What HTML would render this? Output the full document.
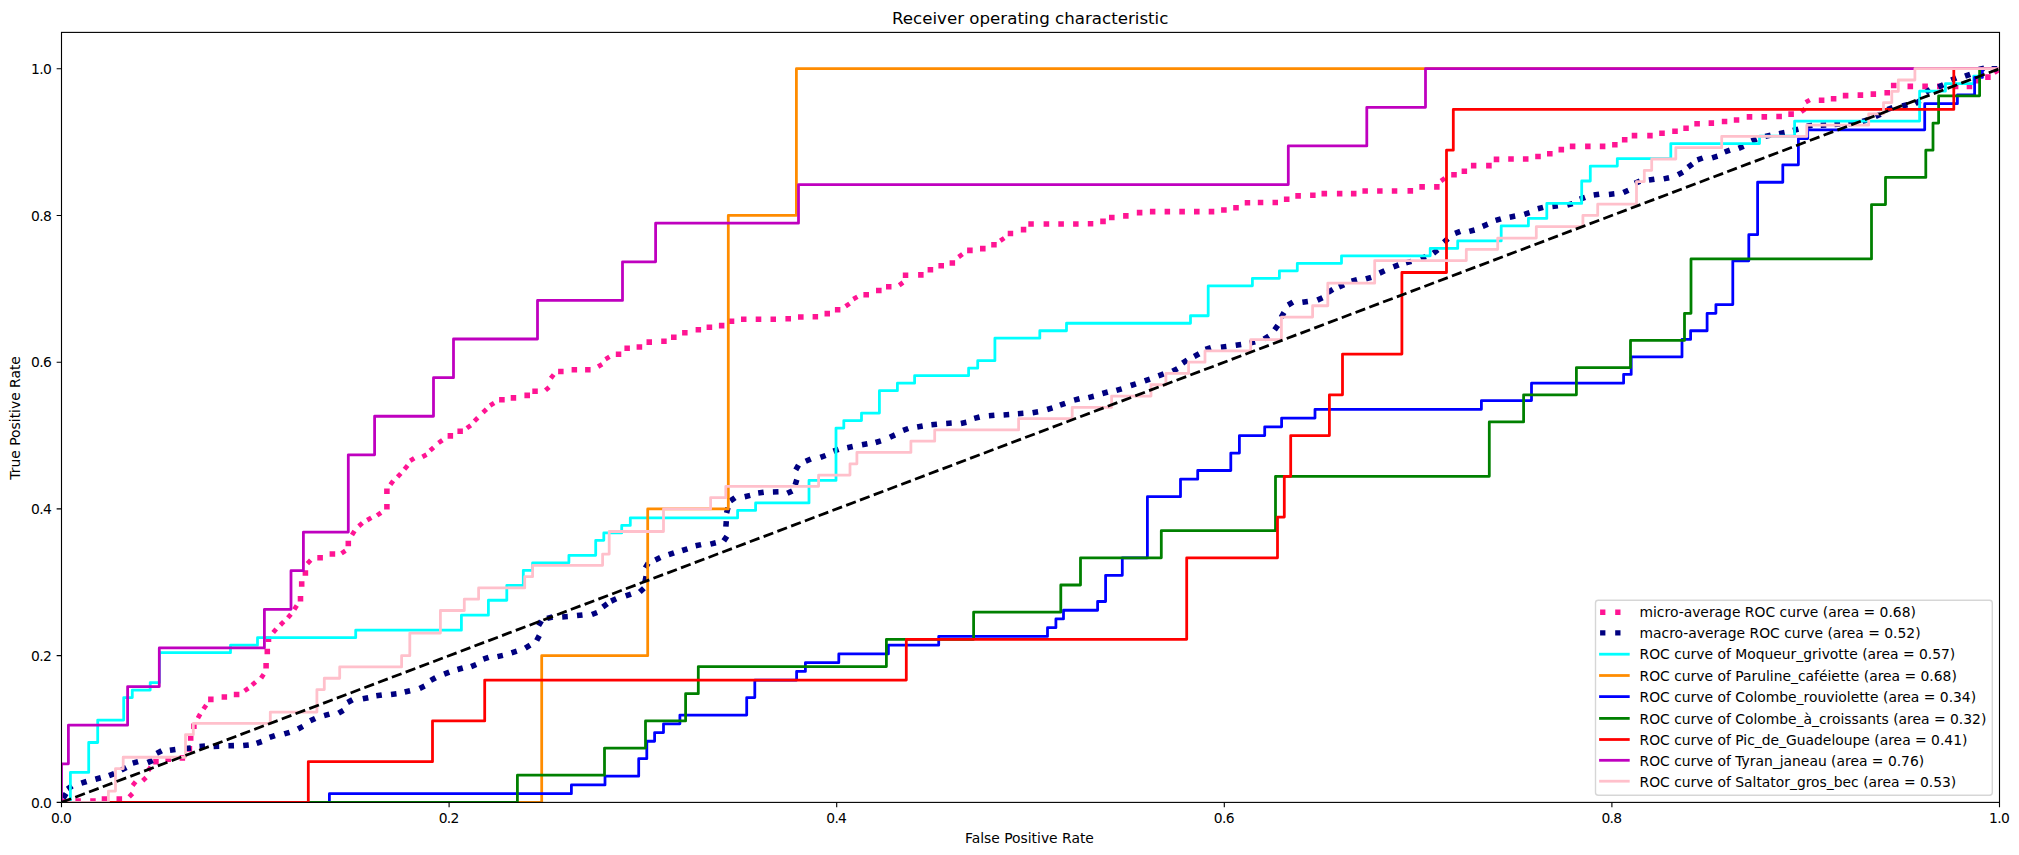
<!DOCTYPE html>
<html><head><meta charset="utf-8"><title>Receiver operating characteristic</title>
<style>html,body{margin:0;padding:0;background:#fff}body{width:2019px;height:855px;overflow:hidden}</style>
</head><body>
<svg width="2019" height="855" viewBox="0 0 2019 855" style="display:block">
<rect width="2019" height="855" fill="#fff"/>
<defs><clipPath id="ax"><rect x="61.5" y="32.4" width="1938.0" height="770.0"/></clipPath></defs>
<g clip-path="url(#ax)" fill="none">
<path d="M59.9 801.6L65.5 801.6M75.4 801.0L80.9 801.0M90.2 801.0L95.7 801.0M101.7 799.0L107.3 799.0M116.5 799.0L122.1 799.0M153.2 761.7L158.7 761.7M165.4 759.2L171.0 759.2M179.6 757.9L185.1 757.9M189.4 751.7L189.4 746.1M190.7 740.7L190.7 735.2M193.9 729.1L193.9 723.6M208.1 699.4L213.6 699.4M221.6 697.0L227.1 697.0M233.8 694.5L239.4 694.5M266.1 668.6L266.1 663.0M267.3 654.3L267.3 648.8M268.5 642.1L268.5 636.5M300.5 601.5L300.5 595.9M301.7 586.8L301.7 581.2M305.4 575.7L305.4 570.2M317.3 557.7L322.9 557.7M329.6 554.0L335.2 554.0M348.3 546.2L348.3 540.7M386.9 509.4L386.9 503.9M386.9 493.9L386.9 488.4M447.6 435.9L453.1 435.9M457.4 431.3L462.9 431.3M499.1 399.8L504.7 399.8M510.7 397.9L516.2 397.9M524.4 395.4L530.0 395.4M532.3 391.2L537.8 391.2M558.1 371.5L563.6 371.5M571.6 369.8L577.1 369.8M585.1 369.8L590.6 369.8M615.8 354.3L621.3 354.3M624.4 348.2L629.9 348.2M636.6 347.0L642.2 347.0M646.5 342.1L652.0 342.1M661.2 341.3L666.7 341.3M671.0 337.2L676.6 337.2M682.1 332.7L687.6 332.7M695.6 329.8L701.1 329.8M706.6 327.3L712.2 327.3M718.9 325.6L724.4 325.6M728.7 321.2L734.3 321.2M741.0 319.2L746.5 319.2M755.7 319.2L761.3 319.2M770.5 319.2L776.0 319.2M785.4 318.8L791.0 318.8M798.0 317.0L803.6 317.0M812.6 316.8L818.1 316.8M824.5 313.6L830.0 313.6M834.9 309.8L840.4 309.8M863.4 294.7L869.0 294.7M876.0 290.5L881.6 290.5M886.0 286.8L891.5 286.8M902.8 275.2L908.3 275.2M918.1 274.9L923.6 274.9M927.6 269.7L933.2 269.7M938.4 265.7L944.0 265.7M949.6 263.0L955.1 263.0M967.1 250.4L972.7 250.4M980.0 248.6L985.6 248.6M991.2 244.8L996.7 244.8M1007.7 233.5L1013.2 233.5M1020.8 229.6L1026.3 229.6M1028.3 224.0L1033.8 224.0M1043.6 224.0L1049.2 224.0M1058.3 224.0L1063.9 224.0M1073.1 224.0L1078.6 224.0M1087.8 223.7L1093.3 223.7M1100.2 221.4L1105.8 221.4M1109.0 217.5L1114.6 217.5M1123.1 215.9L1128.6 215.9M1136.8 212.6L1142.4 212.6M1149.9 211.6L1155.4 211.6M1164.6 211.6L1170.1 211.6M1179.3 211.6L1184.9 211.6M1194.0 211.6L1199.6 211.6M1208.7 211.6L1214.3 211.6M1221.1 210.0L1226.7 210.0M1233.2 207.7L1238.8 207.7M1244.7 202.8L1250.2 202.8M1257.8 202.5L1263.3 202.5M1272.5 202.5L1278.0 202.5M1283.9 199.2L1289.5 199.2M1295.3 195.9L1300.9 195.9M1310.1 195.3L1315.6 195.3M1321.5 193.6L1327.1 193.6M1336.9 193.6L1342.4 193.6M1350.9 193.6L1356.5 193.6M1362.4 191.0L1367.9 191.0M1377.1 191.0L1382.6 191.0M1391.8 191.0L1397.3 191.0M1407.5 190.9L1413.1 190.9M1419.3 186.9L1424.9 186.9M1434.1 186.9L1439.6 186.9M1451.2 174.7L1456.8 174.7M1461.6 171.2L1467.1 171.2M1470.9 165.6L1476.4 165.6M1486.1 165.6L1491.7 165.6M1493.7 159.4L1499.3 159.4M1508.2 159.0L1513.8 159.0M1522.9 159.0L1528.5 159.0M1535.2 156.5L1540.8 156.5M1547.0 153.8L1552.6 153.8M1558.5 149.6L1564.1 149.6M1569.8 146.4L1575.4 146.4M1585.1 146.4L1590.6 146.4M1599.8 146.4L1605.4 146.4M1612.1 144.7L1617.6 144.7M1621.9 139.8L1627.5 139.8M1631.7 135.6L1637.3 135.6M1647.2 135.6L1652.7 135.6M1659.2 133.2L1664.8 133.2M1672.2 131.2L1677.8 131.2M1683.3 128.3L1688.8 128.3M1694.3 123.8L1699.9 123.8M1708.6 123.1L1714.1 123.1M1721.8 121.5L1727.3 121.5M1733.8 120.0L1739.3 120.0M1746.7 116.9L1752.3 116.9M1761.5 116.9L1767.1 116.9M1776.3 116.5L1781.9 116.5M1788.3 114.1L1793.9 114.1M1818.8 100.2L1824.4 100.2M1830.8 98.8L1836.4 98.8M1842.8 95.6L1848.4 95.6M1857.6 95.1L1863.2 95.1M1870.6 94.1L1876.1 94.1M1884.4 92.8L1890.0 92.8M1890.9 85.5L1896.5 85.5M1907.5 86.4L1913.1 86.4M1922.3 86.4L1927.9 86.4M1937.1 86.4L1942.7 86.4M1952.8 86.4L1958.4 86.4M1966.7 86.4L1972.2 86.4M1975.0 80.8L1980.6 80.8M1985.2 77.1L1990.7 77.1" stroke="#ff1493" stroke-width="5.56"/><path d="M129.2 796.9L132.5 793.5M132.6 785.4L135.6 781.8M142.7 780.7L146.1 777.5M148.2 770.8L150.8 766.8M197.9 718.1L200.2 714.0M203.5 709.0L206.2 705.1M244.5 690.9L248.4 688.3M252.0 685.0L255.6 682.0M261.1 678.1L263.7 674.2M273.2 632.5L276.2 628.9M280.4 625.0L283.7 621.7M287.9 617.8L290.9 614.2M294.3 609.4L296.8 605.4M307.4 563.6L310.7 560.2M341.5 553.4L345.4 550.8M352.0 534.9L354.5 530.9M358.8 526.1L362.4 523.0M367.2 520.1L371.3 517.7M377.1 515.4L381.0 512.7M390.4 484.7L393.2 480.9M397.6 476.9L400.8 473.5M404.5 469.2L407.6 465.5M410.2 460.7L414.2 458.2M422.4 456.9L426.5 454.7M430.1 450.5L433.6 447.4M438.5 442.9L442.4 440.2M466.9 428.2L470.7 425.4M474.4 421.1L477.8 417.8M483.0 412.5L486.4 409.2M490.1 405.5L494.1 403.0M545.5 390.3L549.1 387.2M550.8 378.3L553.7 374.6M598.1 366.6L602.1 364.2M605.5 359.2L609.5 356.8M845.6 306.3L849.6 303.6M853.3 299.1L857.4 296.8M899.2 285.2L903.0 282.5M958.6 257.0L962.5 254.2M1000.3 240.7L1004.2 238.1M1441.0 181.0L1444.9 178.2M1801.2 111.9L1805.0 109.0M1805.7 102.3L1809.8 100.0M1994.3 72.9L1998.2 70.3" stroke="#ff1493" stroke-width="4.73"/>
<path d="M63.2 798.2L66.1 793.5M67.5 789.1L72.1 785.9M81.3 783.2L86.6 781.5M95.4 779.2L100.8 777.7M109.0 775.6L114.2 773.6M121.3 770.1L126.3 767.5M132.7 763.1L138.1 761.6M147.6 762.6L152.7 760.4M156.7 753.4L161.7 750.8M169.9 750.3L175.4 749.5M185.4 748.6L190.9 747.9M199.5 746.5L205.0 746.1M213.6 746.4L219.2 746.2M228.4 745.8L234.0 745.6M243.2 745.6L248.8 745.0M256.6 743.3L261.8 741.5M269.6 737.4L274.9 735.6M284.3 733.9L289.6 732.3M298.0 729.0L302.9 726.4M310.2 720.8L315.2 718.4M324.1 715.7L329.4 714.2M338.6 713.1L343.4 710.3M347.6 702.5L352.5 699.8M362.8 698.8L368.3 697.7M376.3 695.7L381.8 694.9M391.0 694.4L396.5 693.7M404.7 692.0L410.1 690.7M419.6 688.4L424.6 686.0M430.7 680.4L435.6 677.7M444.1 674.2L449.3 672.2M457.5 669.5L462.8 668.0M471.1 666.6L476.2 664.5M483.3 659.1L488.6 657.3M497.5 656.6L502.9 655.4M511.5 652.9L516.8 651.2M525.3 648.1L530.1 645.2M536.7 640.5L539.3 635.6M538.6 625.7L541.4 620.9M547.1 618.4L552.5 617.0M562.2 616.9L567.8 616.5M577.0 615.5L582.5 614.9M591.9 614.5L597.1 612.5M602.8 607.0L607.3 603.8M611.1 601.1L616.2 598.8M625.7 595.9L631.0 594.1M639.8 592.0L643.9 588.2M645.0 581.8L646.1 576.3M645.3 567.9L648.2 563.2M655.3 559.9L660.3 557.5M668.7 554.7L674.0 552.9M682.2 550.5L687.5 548.8M695.6 545.8L701.1 544.6M710.4 544.1L715.8 542.8M723.8 540.9L726.9 536.2M725.9 526.6L726.3 521.1M726.6 513.0L728.0 507.6M730.4 500.9L735.0 497.7M744.7 496.7L750.2 495.4M758.2 493.0L763.7 492.2M772.9 492.0L778.5 491.8M787.3 493.3L792.3 490.9M795.2 484.9L796.8 479.6M795.8 469.9L798.5 465.1M805.7 461.2L810.8 459.0M820.4 457.4L825.6 455.5M833.4 451.2L838.6 449.4M847.3 447.7L852.7 446.5M862.0 444.7L867.4 443.7M875.6 442.5L880.9 440.9M889.9 437.2L895.0 434.9M903.1 430.4L908.3 428.5M917.2 427.0L922.7 426.0M931.4 424.8L937.0 424.2M946.2 423.5L951.7 423.1M960.9 423.4L966.4 422.3M974.2 418.4L979.6 417.0M988.9 415.7L994.4 415.2M1003.6 414.9L1009.2 414.5M1017.9 413.7L1023.4 413.3M1032.6 412.7L1038.1 411.8M1047.2 409.5L1052.5 407.9M1060.0 405.2L1065.2 403.4M1074.1 400.1L1079.5 398.7M1088.4 397.6L1093.8 396.3M1102.4 393.5L1107.8 392.0M1116.4 390.3L1121.7 388.8M1130.7 385.5L1135.9 383.8M1144.7 380.9L1149.9 379.1M1158.4 375.8L1163.7 373.9M1172.6 371.3L1177.5 368.6M1182.6 363.1L1187.2 360.0M1194.2 356.5L1199.1 353.8M1205.5 349.4L1210.9 347.7M1220.9 347.2L1226.4 346.5M1235.7 345.3L1241.2 344.5M1249.7 343.1L1255.1 341.7M1264.0 339.0L1268.8 336.0M1274.6 329.9L1277.8 325.4M1281.2 317.3L1284.0 312.5M1288.1 305.0L1292.9 302.2M1302.4 302.3L1307.9 301.5M1317.4 300.1L1322.5 297.8M1328.1 292.3L1332.9 289.4M1339.0 287.0L1344.1 284.8M1351.6 281.3L1357.0 279.8M1365.9 278.9L1371.2 277.3M1379.5 273.1L1384.6 270.8M1393.4 266.8L1398.7 264.8M1405.9 262.9L1411.3 261.3M1420.7 258.7L1425.9 256.7M1433.4 253.2L1437.8 249.8M1443.8 242.3L1448.0 238.7M1455.1 233.4L1460.3 231.4M1469.3 231.4L1474.6 230.0M1482.6 226.3L1487.8 224.2M1495.6 220.4L1500.9 218.8M1509.7 217.2L1515.2 216.1M1524.3 214.3L1529.6 212.7M1537.8 208.8L1543.1 207.4M1552.4 206.4L1557.9 205.8M1567.2 205.2L1572.6 203.6M1579.8 199.2L1585.1 197.3M1593.7 195.0L1599.2 194.2M1608.9 194.4L1614.4 193.8M1623.4 192.5L1628.4 190.2M1634.9 183.4L1640.0 181.1M1648.9 180.0L1654.4 179.2M1663.7 178.9L1669.1 177.8M1678.0 174.8L1682.9 172.1M1688.0 167.2L1692.5 163.9M1697.4 159.9L1702.7 158.0M1712.1 157.8L1717.5 156.2M1724.7 152.0L1729.9 150.1M1738.6 148.4L1743.7 146.3M1751.6 141.1L1756.7 138.9M1765.3 136.4L1770.7 135.1M1779.1 133.7L1784.6 132.6M1793.0 130.5L1798.4 129.1M1806.8 126.2L1812.3 125.3M1820.7 125.3L1826.2 125.0M1834.5 124.5L1840.1 124.1M1848.4 123.7L1853.9 123.0M1862.4 121.4L1867.7 119.8M1875.5 116.6L1880.5 114.2M1887.4 109.5L1892.6 107.6M1902.1 106.0L1907.5 104.8M1915.3 103.6L1920.1 100.6M1925.6 92.6L1930.1 89.4M1938.3 87.0L1943.3 84.7M1951.2 80.0L1956.3 78.0M1965.0 76.2L1970.2 74.3M1978.8 69.5L1984.2 68.2M1991.6 68.8L1997.2 68.8" stroke="#000080" stroke-width="5.56"/>
<path d="M61.5 802.40H70.4V772.45H88.7V742.51H97.7V720.05H123.7V697.59H132.3V690.10H150.2V682.61H159.5V652.67H230.5V645.18H257.5V637.69H355.7V630.21H461.4V615.23H488.4V600.26H506.8V585.28H523.3V570.31H532.6V562.82H568.9V555.34H595.7V540.36H603.8V532.88H621.7V525.39H630.3V517.90H737.6V510.42H755.6V502.93H809.0V480.47H836.0V428.06H843.8V420.58H861.5V413.09H879.4V390.63H897.4V383.14H914.6V375.66H968.6V368.17H977.7V360.68H994.9V338.22H1039.8V330.74H1066.5V323.25H1190.5V315.76H1208.2V285.82H1252.4V278.33H1279.4V270.84H1297.3V263.36H1341.5V255.87H1430.2V248.38H1457.7V240.89H1501.2V225.92H1528.4V218.43H1546.8V203.46H1581.7V181.00H1590.3V166.03H1617.3V158.54H1670.8V143.57H1759.5V136.08H1794.6V121.11H1919.6V91.16H1945.4V83.67H1973.7V76.19H1981.5V68.70H1999.5" stroke="#00ffff" stroke-width="2.78" stroke-linejoin="round" stroke-linecap="square"/>
<path d="M61.5 802.40H541.7V655.66H647.7V508.92H728.3V215.44H796.4V68.70H1999.5" stroke="#ff8c00" stroke-width="2.78" stroke-linejoin="round" stroke-linecap="square"/>
<path d="M61.5 802.40H329.4V793.67H571.4V784.93H605.0V776.20H638.7V758.73H646.8V741.26H654.6V732.52H663.5V723.79H679.9V715.05H746.7V697.59H754.8V680.12H796.6V671.38H805.4V662.65H838.8V653.91H888.4V645.18H938.7V636.44H1047.5V627.71H1055.9V618.98H1063.5V610.24H1097.6V601.51H1105.6V575.30H1122.3V557.83H1147.4V496.69H1180.5V479.22H1197.7V470.49H1230.8V453.02H1239.4V435.55H1264.7V426.82H1281.6V418.08H1315.0V409.35H1481.4V400.61H1531.5V383.14H1623.6V374.41H1631.2V356.94H1682.0V339.47H1690.6V330.74H1707.1V313.27H1715.9V304.53H1732.8V260.86H1748.8V234.66H1757.6V182.25H1782.8V164.78H1798.4V138.58H1807.7V129.84H1924.7V103.64H1957.4V94.90H1974.6V77.43H1982.4V68.70H1999.5" stroke="#0000ff" stroke-width="2.78" stroke-linejoin="round" stroke-linecap="square"/>
<path d="M61.5 802.40H517.4V775.23H604.5V748.05H645.5V720.88H685.6V693.70H698.3V666.53H886.4V639.36H973.6V612.18H1060.8V585.01H1080.5V557.83H1161.3V530.66H1275.5V476.31H1489.3V421.96H1523.6V394.79H1576.4V367.61H1630.5V340.44H1684.5V313.27H1691.0V258.92H1871.5V204.57H1885.5V177.40H1925.8V150.22H1933.0V123.05H1938.6V95.87H1979.6V68.70H1999.5" stroke="#008000" stroke-width="2.78" stroke-linejoin="round" stroke-linecap="square"/>
<path d="M61.5 802.40H308.3V761.64H432.5V720.88H484.7V680.12H906.3V639.36H1186.7V557.83H1277.5V517.07H1284.3V476.31H1290.7V435.55H1329.4V394.79H1342.5V354.03H1401.9V272.51H1446.5V150.22H1453.3V109.46H1953.8V68.70H1999.5" stroke="#ff0000" stroke-width="2.78" stroke-linejoin="round" stroke-linecap="square"/>
<path d="M61.5 802.40H61.5V763.78H68.4V725.17H127.6V686.55H159.3V647.94H264.4V609.32H291.0V570.71H303.4V532.09H348.3V454.86H374.6V416.24H433.5V377.63H453.5V339.01H537.5V300.39H622.5V261.78H655.6V223.16H798.5V184.55H1288.3V145.93H1366.8V107.32H1425.5V68.70H1999.5" stroke="#bf00bf" stroke-width="2.78" stroke-linejoin="round" stroke-linecap="square"/>
<path d="M61.5 802.40H108.4V791.11H115.5V768.54H123.2V757.25H185.5V734.67H193.3V723.39H270.3V712.10H316.9V689.52H324.3V678.24H339.7V666.95H401.6V655.66H409.8V633.08H440.4V610.51H464.3V599.22H478.6V587.93H524.7V576.65H532.6V565.36H602.6V554.07H609.2V531.50H663.5V508.92H710.6V497.63H725.8V486.34H818.6V475.06H850.0V463.77H856.9V452.48H910.9V441.19H934.7V429.91H1018.6V418.62H1072.2V407.33H1111.6V396.04H1151.0V384.76H1165.9V373.47H1188.6V362.18H1205.0V350.89H1250.7V339.60H1281.4V317.03H1312.6V305.74H1327.8V283.17H1374.7V260.59H1466.3V249.30H1497.7V238.02H1536.3V226.73H1582.9V215.44H1597.7V204.15H1636.5V181.58H1644.3V170.29H1651.7V159.00H1675.8V147.71H1721.7V136.43H1806.8V125.14H1868.7V113.85H1883.5V102.56H1891.8V91.28H1898.3V79.99H1914.9V68.70H1999.5" stroke="#ffc0cb" stroke-width="2.78" stroke-linejoin="round" stroke-linecap="square"/>
<path d="M61.5 802.40L1999.5 68.70" stroke="#000" stroke-width="2.78" stroke-dasharray="10.28 4.44"/>
</g>
<rect x="61.5" y="32.4" width="1938.0" height="770.0" fill="none" stroke="#000" stroke-width="1.11"/>
<path d="M61.50 802.4v4.86M61.5 802.40h-4.86M449.10 802.4v4.86M61.5 655.66h-4.86M836.70 802.4v4.86M61.5 508.92h-4.86M1224.30 802.4v4.86M61.5 362.18h-4.86M1611.90 802.4v4.86M61.5 215.44h-4.86M1999.50 802.4v4.86M61.5 68.70h-4.86" stroke="#000" stroke-width="1.11" fill="none"/>
<g font-family="'DejaVu Sans','Liberation Sans',sans-serif" font-size="13.89px" fill="#000">
<text x="61.05" y="822.9" text-anchor="middle" letter-spacing="-0.7">0.0</text>
<text x="41.05" y="807.60" text-anchor="middle" letter-spacing="-0.7">0.0</text>
<text x="448.65" y="822.9" text-anchor="middle" letter-spacing="-0.7">0.2</text>
<text x="41.05" y="660.86" text-anchor="middle" letter-spacing="-0.7">0.2</text>
<text x="836.25" y="822.9" text-anchor="middle" letter-spacing="-0.7">0.4</text>
<text x="41.05" y="514.12" text-anchor="middle" letter-spacing="-0.7">0.4</text>
<text x="1223.85" y="822.9" text-anchor="middle" letter-spacing="-0.7">0.6</text>
<text x="41.05" y="367.38" text-anchor="middle" letter-spacing="-0.7">0.6</text>
<text x="1611.45" y="822.9" text-anchor="middle" letter-spacing="-0.7">0.8</text>
<text x="41.05" y="220.64" text-anchor="middle" letter-spacing="-0.7">0.8</text>
<text x="1999.05" y="822.9" text-anchor="middle" letter-spacing="-0.7">1.0</text>
<text x="41.05" y="73.90" text-anchor="middle" letter-spacing="-0.7">1.0</text>
<text x="1029.4" y="842.9" text-anchor="middle">False Positive Rate</text>
<text transform="translate(19.8 417.9) rotate(-90)" text-anchor="middle">True Positive Rate</text>
<text x="1030.2" y="24.1" text-anchor="middle" font-size="16.67px">Receiver operating characteristic</text>
</g>
<rect x="1595.5" y="600.3" width="396.79999999999995" height="194.9000000000001" rx="2.8" fill="#fff" fill-opacity="0.8" stroke="#ccc" stroke-opacity="0.8" stroke-width="1.39"/>
<g font-family="'DejaVu Sans','Liberation Sans',sans-serif" font-size="13.89px" fill="#000">
<path d="M1600.1 612.25h27.8" stroke="#ff1493" stroke-width="5.4" stroke-dasharray="5.3 9.8" fill="none"/>
<text x="1639.5" y="617.15">micro-average ROC curve (area = 0.68)</text>
<path d="M1600.1 632.90h27.8" stroke="#000080" stroke-width="5.4" stroke-dasharray="5.3 9.8" fill="none"/>
<text x="1639.5" y="637.90">macro-average ROC curve (area = 0.52)</text>
<path d="M1600.5 654.20h27.8" stroke="#00ffff" stroke-width="2.78" stroke-linecap="square" fill="none"/>
<text x="1639.5" y="659.10">ROC curve of Moqueur_grivotte (area = 0.57)</text>
<path d="M1600.5 675.50h27.8" stroke="#ff8c00" stroke-width="2.78" stroke-linecap="square" fill="none"/>
<text x="1639.5" y="681.40">ROC curve of Paruline_caféiette (area = 0.68)</text>
<path d="M1600.5 696.60h27.8" stroke="#0000ff" stroke-width="2.78" stroke-linecap="square" fill="none"/>
<text x="1639.5" y="702.00">ROC curve of Colombe_rouviolette (area = 0.34)</text>
<path d="M1600.5 718.40h27.8" stroke="#008000" stroke-width="2.78" stroke-linecap="square" fill="none"/>
<text x="1639.5" y="724.20">ROC curve of Colombe_à_croissants (area = 0.32)</text>
<path d="M1600.5 739.50h27.8" stroke="#ff0000" stroke-width="2.78" stroke-linecap="square" fill="none"/>
<text x="1639.5" y="745.30">ROC curve of Pic_de_Guadeloupe (area = 0.41)</text>
<path d="M1600.5 760.30h27.8" stroke="#bf00bf" stroke-width="2.78" stroke-linecap="square" fill="none"/>
<text x="1639.5" y="766.30">ROC curve of Tyran_janeau (area = 0.76)</text>
<path d="M1600.5 781.20h27.8" stroke="#ffc0cb" stroke-width="2.78" stroke-linecap="square" fill="none"/>
<text x="1639.5" y="786.90">ROC curve of Saltator_gros_bec (area = 0.53)</text>
</g>
</svg>
</body></html>
